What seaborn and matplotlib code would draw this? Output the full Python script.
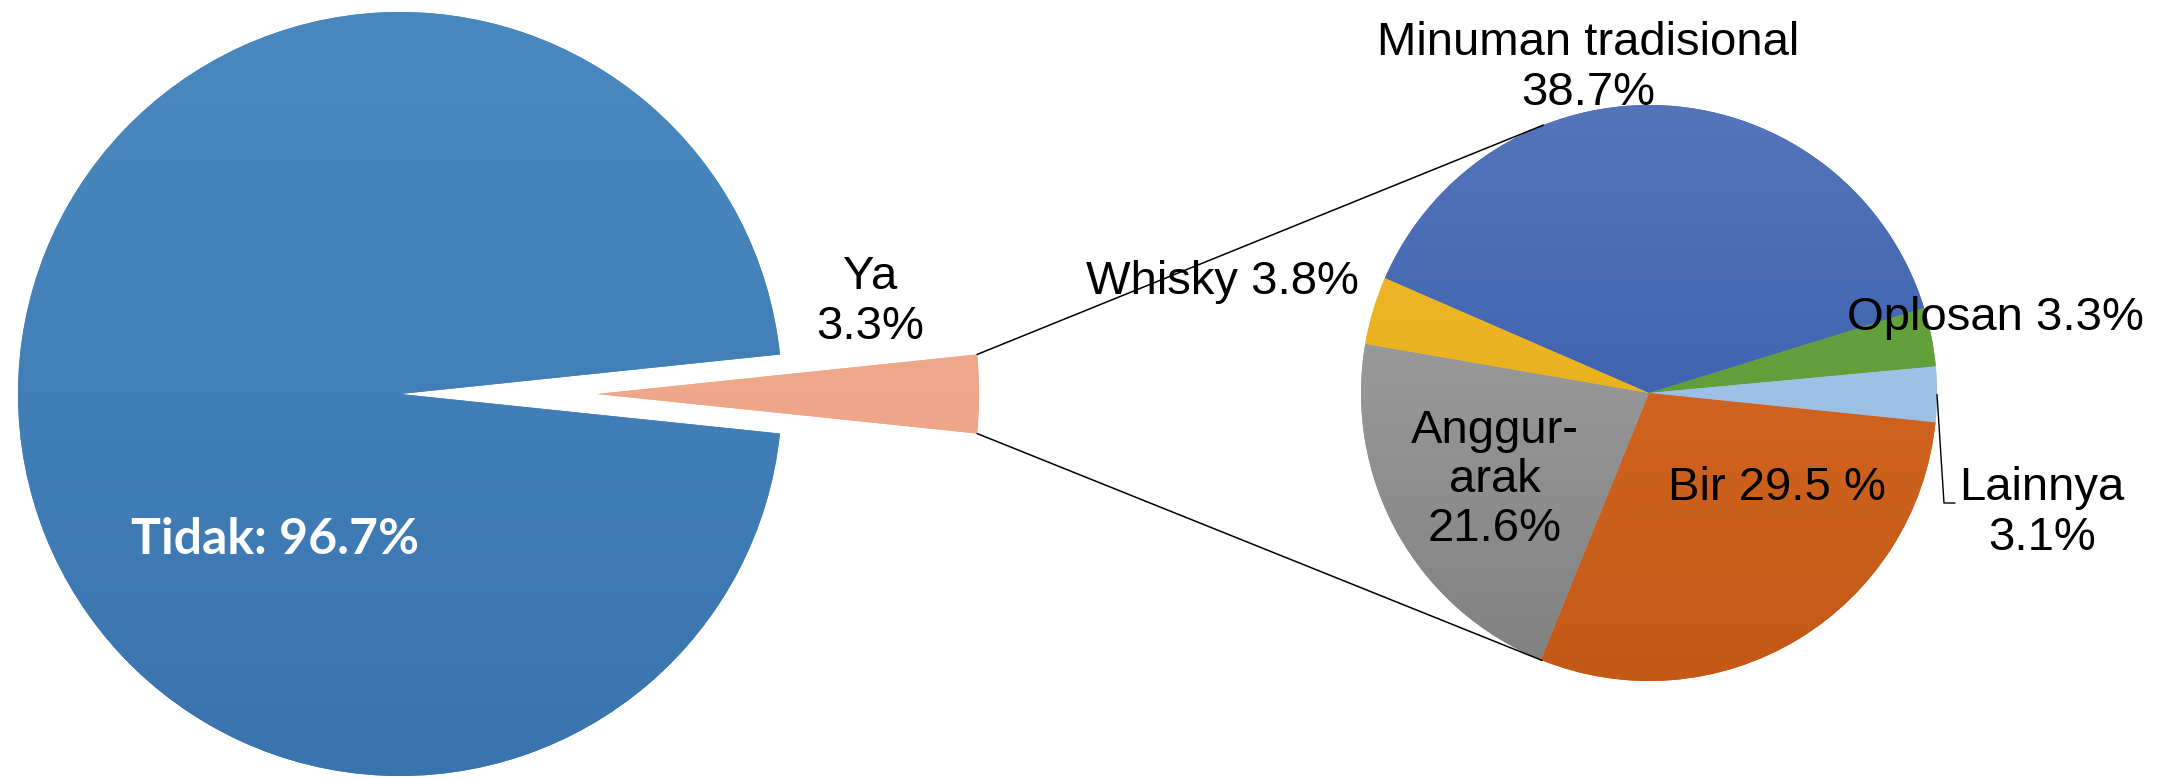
import numpy as np
import matplotlib
matplotlib.use("Agg")
import matplotlib.pyplot as plt
import seaborn as sns
from matplotlib.colors import to_rgb

sns.set_theme(style="white")
plt.rcParams['font.family'] = ['Liberation Sans', 'DejaVu Sans']
plt.rcParams['text.color'] = 'black'

# ---- data ----
main_labels = ["Ya", "Tidak"]
main_values = [3.3, 96.7]
main_top = ["#F4B498", "#4A89C0"]
main_bottom = ["#EA9A7C", "#3A74AE"]

sub_labels = ["Minuman tradisional", "Oplosan", "Lainnya", "Bir", "Anggur-arak", "Whisky"]
sub_values = [38.7, 3.3, 3.1, 29.5, 21.6, 3.8]
sub_top = ["#5575BB", "#68A842", "#A6C8EC", "#DA6E28", "#ABABAB", "#EFBA38"]
sub_bottom = ["#2A54A5", "#5A9634", "#94B8E0", "#C45816", "#808080", "#E6AA00"]
sub_texts = ["Minuman tradisional\n38.7%", "Oplosan 3.3%", "Lainnya\n3.1%",
             "Bir 29.5 %", "Anggur-\narak\n21.6%", "Whisky 3.8%"]

W, H = 2172, 779
fig = plt.figure(figsize=(W / 100, H / 100), dpi=100)
ax = fig.add_axes([0, 0, 1, 1])


def mix(c1, c2):
    return tuple((np.array(to_rgb(c1)) + np.array(to_rgb(c2))) / 2)


def gradient(ax, wedge, top, bottom, y0, y1, x0, x1):
    t = np.linspace(0, 1, 256)[:, None, None]
    img = np.array(to_rgb(bottom))[None, None, :] * (1 - t) + np.array(to_rgb(top))[None, None, :] * t
    im = ax.imshow(img, origin="lower", extent=(x0, x1, y0, y1), aspect="auto",
                   interpolation="bilinear", zorder=wedge.get_zorder() + 0.1)
    im.set_clip_path(wedge)


# ---- main pie ----
main_center = (400, H - 394)
main_r = 382
ya_span = main_values[0] * 3.6
wedges_main, _ = ax.pie(main_values, colors=[mix(a, b) for a, b in zip(main_top, main_bottom)],
                        center=main_center, radius=main_r, startangle=-ya_span / 2,
                        explode=[0.516 * main_r, 0], wedgeprops=dict(linewidth=0), frame=True)
for w, t, b in zip(wedges_main, main_top, main_bottom):
    cx, cy = w.center
    gradient(ax, w, t, b, cy - w.r, cy + w.r, cx - w.r, cx + w.r)

# ---- sub pie ----
sub_center = (1649, H - 393)
sub_r = 288
wedges_sub, _ = ax.pie(sub_values, colors=[mix(a, b) for a, b in zip(sub_top, sub_bottom)],
                       center=sub_center, radius=sub_r, startangle=156.5, counterclock=False,
                       wedgeprops=dict(linewidth=0), frame=True)
for w, t, b in zip(wedges_sub, sub_top, sub_bottom):
    cx, cy = w.center
    gradient(ax, w, t, b, cy - w.r, cy + w.r, cx - w.r, cx + w.r)

# ---- connector lines from the "Ya" wedge to the sub pie ----
ya = wedges_main[0]
ycx, ycy = ya.center
p_top = (ycx + ya.r * np.cos(np.radians(ya.theta2)), ycy + ya.r * np.sin(np.radians(ya.theta2)))
p_bot = (ycx + ya.r * np.cos(np.radians(ya.theta1)), ycy + ya.r * np.sin(np.radians(ya.theta1)))
for p, ang in [(p_top, 111.5), (p_bot, 248.2)]:
    q = (sub_center[0] + sub_r * np.cos(np.radians(ang)), sub_center[1] + sub_r * np.sin(np.radians(ang)))
    ax.plot([p[0], q[0]], [p[1], q[1]], color="black", lw=1.1, zorder=10)

# ---- leader for Lainnya ----
lw = wedges_sub[2]
mid = np.radians((lw.theta1 + lw.theta2) / 2)
s = (sub_center[0] + sub_r * np.cos(mid), sub_center[1] + sub_r * np.sin(mid))
ax.plot([s[0], s[0] + 7, s[0] + 18], [s[1], H - 503, H - 503], color="black", lw=1.0, zorder=10)

# ---- labels ----
fs = 34
ax.text(131, H - 539, "Tidak: 96.7%", color="white", fontsize=36, fontweight="bold",
        family=["Lato", "DejaVu Sans"], ha="left", va="center", zorder=20)
ax.text(870, H - 302, "Ya\n3.3%", fontsize=fs, color="black", ha="center", va="center",
        linespacing=1.15, zorder=20)

sub_pos = [(1588, H - 68, "center"), (1995, H - 318, "center"), (2042, H - 513, "center"),
           (1777, H - 488, "center"), (1495, H - 480, "center"), (1222, H - 282, "center")]
for txt, (x, y, ha) in zip(sub_texts, sub_pos):
    ax.text(x, y, txt, fontsize=fs, color="black", ha=ha, va="center", linespacing=1.15, zorder=20)

ax.set_xlim(0, W)
ax.set_ylim(0, H)
ax.set_aspect("equal")
ax.axis("off")
fig.savefig("out.png", dpi=100, facecolor="white")
